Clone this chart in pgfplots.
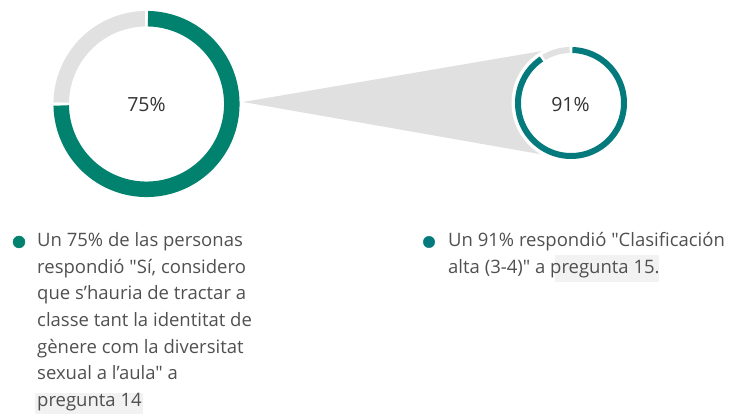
\documentclass[border=0pt]{standalone}
\usepackage{pgfplots}
\pgfplotsset{compat=1.18}
\usepackage{fontspec}
\setmainfont{Open Sans}[Ligatures=TeXOff]
\definecolor{tealA}{HTML}{00826E}
\definecolor{tealB}{HTML}{057A7D}
\definecolor{ringgray}{HTML}{E1E1E1}
\definecolor{funnel}{HTML}{E0E0E0}
\definecolor{txt}{HTML}{505050}
\definecolor{hl}{HTML}{F2F2F2}
% data: share of answers (percent)
\def\valA{75}
\def\valB{91}
\begin{document}
\begin{tikzpicture}
\useasboundingbox (0,0) rectangle (729pt,414pt);
\begin{axis}[
  width=729pt, height=414pt, scale only axis,
  xmin=0, xmax=729, ymin=0, ymax=414,
  hide axis, clip=false,
]
% funnel
\addplot[fill=funnel, draw=none] coordinates {(243,312) (545,363.5) (545,259)} -- cycle;
% white backing of small donut
\addplot[fill=white, draw=none, domain=0:360, samples=90, variable=\t]
  ({571+59.5*cos(\t)}, {311+59.5*sin(\t)}) -- cycle;
% left donut (75%)
\pgfmathsetmacro\endA{90-3.6*\valA}
\addplot[draw=tealA, line width=15.5pt, domain={\endA+1}:89, samples=150, variable=\t]
  ({146.5+85.3*cos(\t)}, {310+85.3*sin(\t)});
\addplot[draw=ringgray, line width=15.5pt, domain={91}:{\endA+359}, samples=60, variable=\t]
  ({146.5+85.3*cos(\t)}, {310+85.3*sin(\t)});
% right donut (91%)
\pgfmathsetmacro\endB{90-3.6*\valB}
\addplot[draw=tealB, line width=6pt, domain={\endB+1.5}:88.5, samples=150, variable=\t]
  ({571+53*cos(\t)}, {311+53*sin(\t)});
\addplot[draw=ringgray, line width=6pt, domain={91.5}:{\endB+358.5}, samples=30, variable=\t]
  ({571+53*cos(\t)}, {311+53*sin(\t)});
% centre labels
\node[font=\fontsize{19.5}{22}\selectfont, text=black!80, anchor=base] at (axis cs:146.5,302.3) {75\%};
\node[font=\fontsize{19.5}{22}\selectfont, text=black!80, anchor=base] at (axis cs:570.5,302.3) {91\%};
% legend bullets
\addplot[only marks, mark=*, mark size=6pt, color=tealA] coordinates {(19,172)};
\addplot[only marks, mark=*, mark size=5.7pt, color=tealB] coordinates {(429,172)};
% highlights
\fill[hl] (axis cs:35,0) rectangle (axis cs:143,21);
\fill[hl] (axis cs:555,132) rectangle (axis cs:659,159);
% texts
\begin{scope}[every node/.style={font=\fontsize{18.5}{27}\selectfont, text=txt, anchor=base west, inner sep=0pt}]
\node at (axis cs:37,167.3) {Un 75\% de las personas};
\node at (axis cs:37,140.7) {respondió "Sí, considero};
\node at (axis cs:37,114) {que s’hauria de tractar a};
\node at (axis cs:37,87.3) {classe tant la identitat de};
\node at (axis cs:37,60.7) {gènere com la diversitat};
\node at (axis cs:37,34) {sexual a l’aula" a};
\node at (axis cs:37,7.3) {pregunta 14};
\node at (axis cs:448,167.3) {Un 91\% respondió "Clasificación};
\node at (axis cs:448,140.7) {alta (3-4)" a pregunta 15.};
\end{scope}
\end{axis}
\end{tikzpicture}
\end{document}
